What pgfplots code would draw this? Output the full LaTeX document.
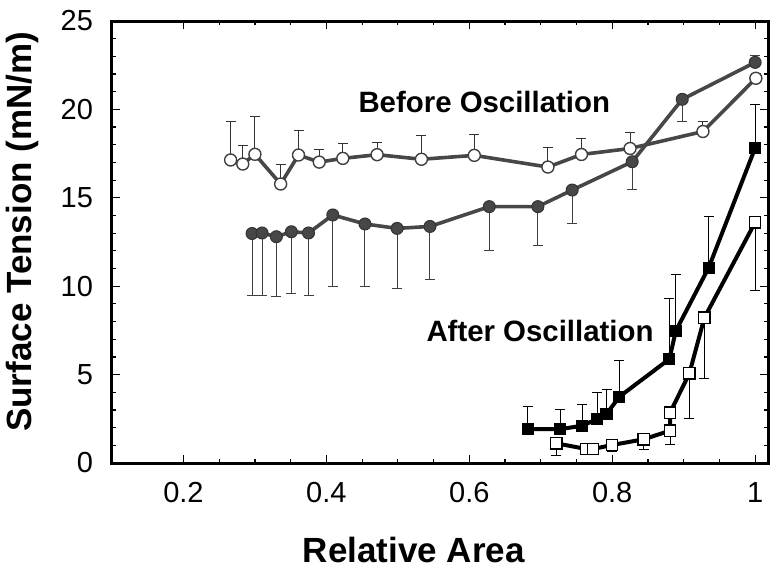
\documentclass[border=0pt]{standalone}
\usepackage{fontspec}
\setmainfont{Liberation Sans}
\usepackage{pgfplots}
\pgfplotsset{compat=1.18}
\usepackage{pgfplotstable}

\pgfplotstableread{
x y ep
0.266 17.14 2.16
0.283 16.91 1.04
0.300 17.46 2.14
0.336 15.78 1.11
0.361 17.42 1.38
0.390 17.02 0.72
0.423 17.23 0.83
0.471 17.44 0.68
0.533 17.18 1.32
0.607 17.40 1.20
0.710 16.74 1.12
0.757 17.45 0.92
0.825 17.79 0.91
0.927 18.75 0.59
1.001 21.76 0.28
}\opencirc

\pgfplotstableread{
x y ep em
0.296 12.98 0 3.53
0.310 13.01 0 3.56
0.330 12.80 0 3.39
0.351 13.08 0 3.48
0.375 13.01 0 3.56
0.409 14.03 0 4.02
0.454 13.52 0 3.55
0.499 13.27 0 3.41
0.545 13.38 0 2.98
0.628 14.50 0 2.49
0.696 14.50 0 2.17
0.744 15.44 0 1.88
0.828 17.04 0 1.56
0.898 20.57 0 1.27
1.000 22.66 0.41 0
}\fillcirc

\pgfplotstableread{
x y ep
0.682 1.91 1.27
0.727 1.91 1.09
0.758 2.11 1.19
0.779 2.49 1.49
0.792 2.77 1.40
0.810 3.75 2.04
0.880 5.88 3.44
0.889 7.47 3.22
0.935 11.05 2.88
1.000 17.82 2.43
}\fillsq

\pgfplotstableread{
x y em
0.722 1.11 0.66
0.764 0.79 0.30
0.773 0.79 0.30
0.800 1.02 0.38
0.844 1.34 0.60
0.881 1.83 0.76
0.881 2.85 0
0.908 5.07 2.54
0.929 8.22 3.43
1.000 13.61 3.88
}\opensq

\begin{document}
\begin{tikzpicture}
\useasboundingbox (-56pt,-55.5pt) rectangle (336pt,231.5pt);
\begin{axis}[
  at={(0,0)}, anchor=south west,
  width=328pt, height=221pt, scale only axis,
  xmin=0.1, xmax=1.018, ymin=0, ymax=25,
  xtick={0.2,0.4,0.6,0.8,1}, xticklabels={0.2,0.4,0.6,0.8,1},
  minor x tick num=3,
  ytick={0,5,10,15,20,25}, minor y tick num=4,
  tick align=inside, major tick length=4pt, minor tick length=2pt,
  axis line style={line width=1.5pt},
  every tick/.style={black, line width=0.6pt},
  tick label style={font=\fontsize{14.5}{16}\selectfont},
  xticklabel shift=6pt, yticklabel shift=6pt,
  /pgf/number format/assume math mode=true,
  xlabel={Relative Area},
  ylabel={Surface Tension (mN/m)},
  xlabel style={at={(axis description cs:0.46,-0.197)}, anchor=center, font=\fontsize{17.5}{20}\selectfont\bfseries},
  ylabel style={at={(axis description cs:-0.137,0.523)}, anchor=center, font=\fontsize{17.5}{20}\selectfont\bfseries},
  clip=false,
]
% before oscillation, open circles
\addplot[black!72, line width=1.8pt, mark=*, mark size=3pt,
  mark options={fill=white, draw=black!75, line width=0.7pt},
  error bars/.cd, y dir=plus, y explicit,
  error bar style={line width=0.5pt, black!80},
  error mark options={rotate=90, mark size=2.5pt, line width=0.5pt, black!80}]
  table[x=x, y=y, y error plus=ep]{\opencirc};
% before oscillation, filled circles
\addplot[black!72, line width=1.8pt, mark=*, mark size=3pt,
  mark options={fill=black!72, draw=black!80, line width=0.5pt},
  error bars/.cd, y dir=both, y explicit,
  error bar style={line width=0.5pt, black!75},
  error mark options={rotate=90, mark size=2.5pt, line width=0.5pt, black!75}]
  table[x=x, y=y, y error plus=ep, y error minus=em]{\fillcirc};
% after oscillation, filled squares
\addplot[black, line width=2pt, mark=square*, mark size=2.8pt,
  mark options={fill=black, draw=black, line width=0.5pt},
  error bars/.cd, y dir=plus, y explicit,
  error bar style={line width=0.5pt, black},
  error mark options={rotate=90, mark size=2.5pt, line width=0.5pt, black}]
  table[x=x, y=y, y error plus=ep]{\fillsq};
% after oscillation, open squares
\addplot[black, line width=2pt, mark=square*, mark size=2.8pt,
  mark options={fill=white, draw=black, line width=0.6pt},
  error bars/.cd, y dir=minus, y explicit,
  error bar style={line width=0.5pt, black},
  error mark options={rotate=90, mark size=2.5pt, line width=0.5pt, black}]
  table[x=x, y=y, y error minus=em]{\opensq};
\node[font=\fontsize{14.7}{17}\selectfont\bfseries] at (axis cs:0.621,20.42) {Before Oscillation};
\node[font=\fontsize{14.7}{17}\selectfont\bfseries] at (axis cs:0.699,7.47) {After Oscillation};
\end{axis}
\end{tikzpicture}
\end{document}
